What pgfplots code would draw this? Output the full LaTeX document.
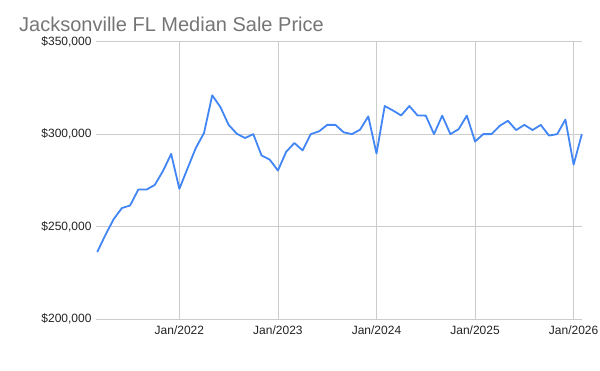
\documentclass[border=0pt]{standalone}
\usepackage{fontspec}
\setmainfont{Liberation Sans}
\usepackage{pgfplots}
\pgfplotsset{compat=1.18}
\definecolor{gline}{HTML}{4285F4}
\definecolor{gridc}{HTML}{CCCCCC}
\definecolor{titlec}{HTML}{757575}
\definecolor{tickc}{HTML}{222222}
\begin{document}
\begin{tikzpicture}[x=1pt,y=1pt]
\useasboundingbox (0,0) rectangle (600,371);
\node[anchor=base west, text=titlec, font=\fontsize{20}{22}\selectfont, inner sep=0pt] at (19,339.5) {Jacksonville FL Median Sale Price};
\begin{axis}[
  at={(96pt,52pt)}, anchor=south west,
  scale only axis, width=486pt, height=277.3pt,
  xmin=-10.15, xmax=49.02,
  ymin=200000, ymax=350000,
  xtick={0,12,24,36,48},
  xticklabels={Jan/2022,Jan/2023,Jan/2024,Jan/2025,Jan/2026},
  ytick={200000,250000,300000,350000},
  yticklabels={{\$200,000},{\$250,000},{\$300,000},{\$350,000}},
  scaled y ticks=false,
  grid=major,
  major grid style={gridc, line width=0.8pt},
  axis line style={draw=none},
  major tick length=0pt,
  tick label style={text=tickc, font=\fontsize{12}{14}\selectfont},
  /pgf/number format/assume math mode=true,
  xticklabel style={yshift=-3pt},
  yticklabel style={xshift=-1pt},
  clip=false,
]
\addplot[gline, line width=1.8pt, line join=round, mark=none] coordinates {
(-10,236200) (-9,245500) (-8,254000) (-7,260000) (-6,261400) (-5,270000)
(-4,270000) (-3,272500) (-2,280000) (-1,289300) (0,270400) (1,281500)
(2,292500) (3,300600) (4,321000) (5,314600) (6,305000) (7,300200)
(8,297900) (9,300000) (10,288500) (11,286200) (12,280300) (13,290400)
(14,295200) (15,291200) (16,300000) (17,301500) (18,305000) (19,305000)
(20,301000) (21,300000) (22,302400) (23,309600) (24,289500) (25,315200)
(26,312800) (27,310100) (28,315200) (29,310100) (30,310000) (31,300000)
(32,310000) (33,300000) (34,302700) (35,310000) (36,296000) (37,300000)
(38,300000) (39,304500) (40,307200) (41,302200) (42,305000) (43,302200)
(44,305000) (45,299200) (46,300000) (47,307900) (48,283500) (49,300000)
};
\end{axis}
\end{tikzpicture}
\end{document}
